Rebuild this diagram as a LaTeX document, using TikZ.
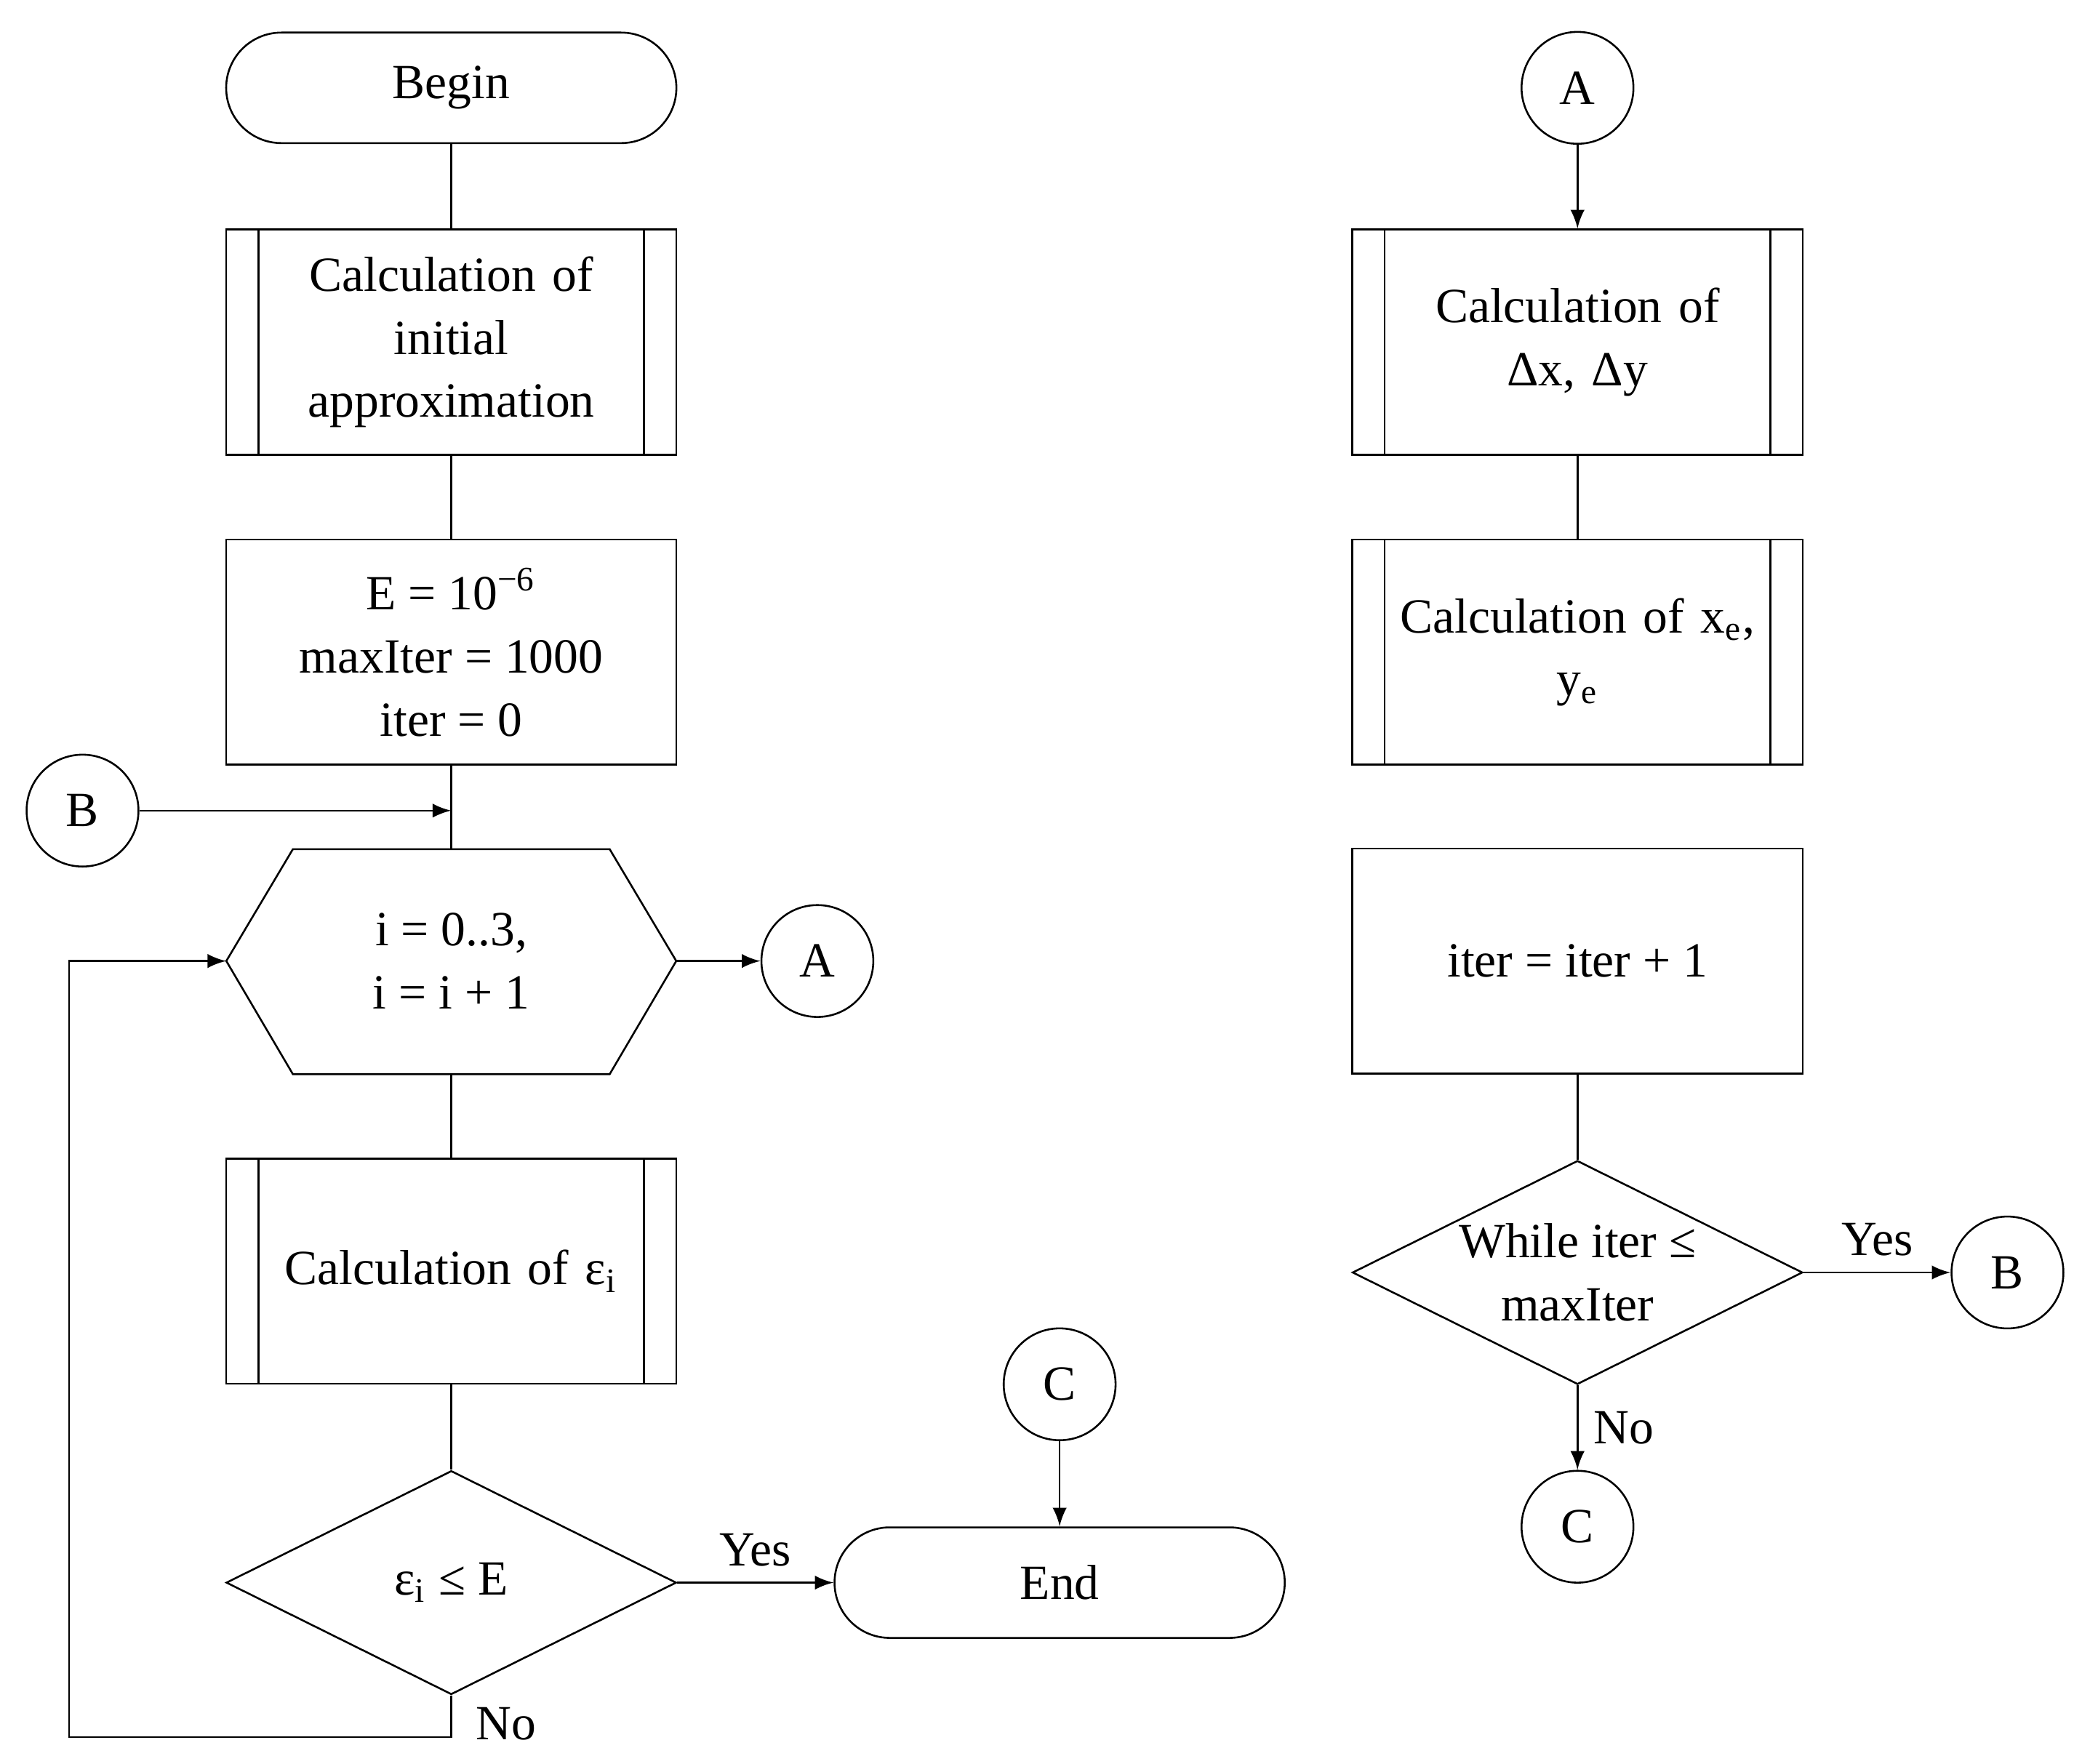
\documentclass[tikz,border=0pt]{standalone}
\usepackage{fontspec}
\setmainfont{Liberation Serif}
\usetikzlibrary{shapes.geometric,shapes.misc,positioning}
\tikzset{
  term/.style = {draw, rectangle, rounded corners=0.415cm, minimum width=3.38cm, minimum height=0.83cm},
  proc/.style = {draw, rectangle, minimum width=3.38cm, minimum height=1.69cm, inner sep=1pt, align=center},
  sub/.style = {proc, text width=2.9cm},
  dec/.style = {draw, diamond, minimum width=3.38cm, minimum height=1.68cm, inner sep=0pt, shape aspect=2, align=center},
  conn/.style = {draw, circle, minimum size=0.84cm, inner sep=0pt},
  arrow/.style = {->, >=latex}
}
\newcommand{\subbars}[1]{%
  \draw ([xshift=0.25cm]#1.north west) -- ([xshift=0.25cm]#1.south west);
  \draw ([xshift=-0.25cm]#1.north east) -- ([xshift=-0.25cm]#1.south east);}
\begin{document}
\begin{tikzpicture}[x=0.01cm, y=-0.01cm, font=\fontsize{10.5}{13.5}\selectfont]
  \useasboundingbox (0,0) rectangle (1564,1325);

  % left column
  \node[term] (begin) at (339,66) {Begin};
  \node[sub] (init) at (339,257) {Calculation of\\initial\\approximation};
  \subbars{init}
  \node[proc] (param) at (339,490) {E = 10\textsuperscript{−6}\\maxIter = 1000\\iter = 0};
  \node[conn] (b1) at (62,609) {B};
  \coordinate (join) at (339,609);
  \draw (170,722) -- (220,638) -- (458,638) -- (508,722) -- (458,807) -- (220,807) -- cycle;
  \node[align=center] (loop) at (339,722) {i = 0..3,\\i = i + 1};
  \coordinate (loopw) at (170,722);
  \coordinate (loope) at (508,722);
  \coordinate (loopn) at (339,638);
  \coordinate (loops) at (339,807);
  \node[conn] (a1) at (614,722) {A};
  \node[sub] (eps) at (339,955) {Calculation of ε\textsubscript{i}};
  \subbars{eps}
  \node[dec] (check) at (339,1189) {ε\textsubscript{i} ≤ E};
  \node[term] (end) at (796,1189) {End};
  \node[conn] (c1) at (796,1040) {C};
  \coordinate (lb) at (339,1305);
  \coordinate (lbl) at (52,1305);
  \coordinate (ltl) at (52,722);

  \draw (begin) -- (init);
  \draw (init) -- (param);
  \draw (param) -- (loopn);
  \draw[arrow] (b1) -- (join);
  \draw[arrow] (loope) -- (a1);
  \draw (loops) -- (eps);
  \draw (eps) -- (check);
  \draw[arrow] (check.east) -- node[above] {Yes} (end.west);
  \draw[arrow] (c1) -- (end);
  \draw[arrow] (check.south) -- (lb) -- (lbl) -- (ltl) -- (loopw);
  \node (no1) at (380,1295) {No};

  % right column
  \node[conn] (a2) at (1185,66) {A};
  \node[sub] (delta) at (1185,257) {Calculation of\\Δx, Δy};
  \subbars{delta}
  \node[sub] (xe) at (1185,490) {Calculation of x\textsubscript{e},\\y\textsubscript{e}};
  \subbars{xe}
  \node[proc] (inc) at (1185,722) {iter = iter + 1};
  \node[dec] (while) at (1185,956) {While iter ≤\\maxIter};
  \node[conn] (b2) at (1508,956) {B};
  \node[conn] (c2) at (1185,1147) {C};

  \draw[arrow] (a2) -- (delta);
  \draw (delta) -- (xe);
  \draw (inc) -- (while);
  \draw[arrow] (while.east) -- node[above] {Yes} (b2);
  \draw[arrow] (while.south) -- node[right] {No} (c2);
\end{tikzpicture}
\end{document}
